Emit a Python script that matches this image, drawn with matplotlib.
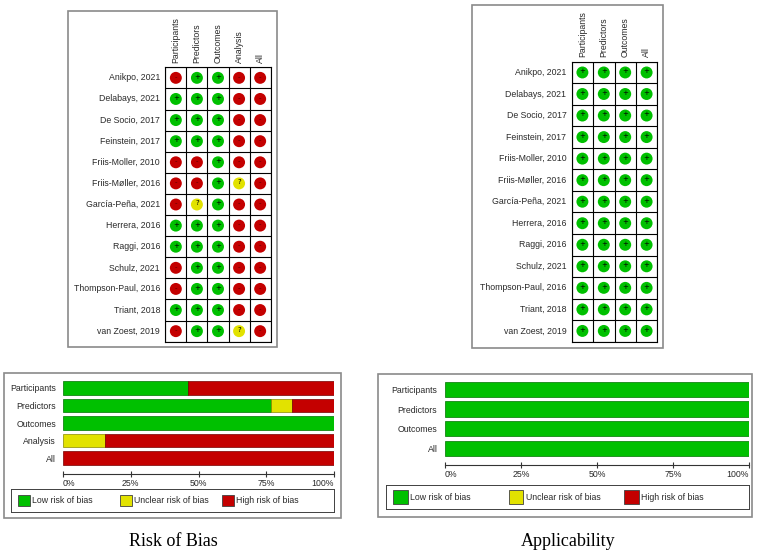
import matplotlib
matplotlib.use("Agg")
import matplotlib.pyplot as plt
from matplotlib.patches import Rectangle
import matplotlib.colors as mcolors
import numpy as np

# ---------------- data ----------------
studies = ["Anikpo, 2021", "Delabays, 2021", "De Socio, 2017", "Feinstein, 2017",
           "Friis-Moller, 2010", "Friis-Møller, 2016", "García-Peña, 2021",
           "Herrera, 2016", "Raggi, 2016", "Schulz, 2021", "Thompson-Paul, 2016",
           "Triant, 2018", "van Zoest, 2019"]

rob_domains = ["Participants", "Predictors", "Outcomes", "Analysis", "All"]
app_domains = ["Participants", "Predictors", "Outcomes", "All"]

# L = low, U = unclear, H = high (one entry per study, in order above)
rob_participants = ["H", "L", "L", "L", "H", "H", "H", "L", "L", "H", "H", "L", "H"]
rob_predictors   = ["L", "L", "L", "L", "H", "H", "U", "L", "L", "L", "L", "L", "L"]
rob_outcomes     = ["L", "L", "L", "L", "L", "L", "L", "L", "L", "L", "L", "L", "L"]
rob_analysis     = ["H", "H", "H", "H", "H", "U", "H", "H", "H", "H", "H", "H", "U"]
rob_all          = ["H", "H", "H", "H", "H", "H", "H", "H", "H", "H", "H", "H", "H"]

app_participants = ["L", "L", "L", "L", "L", "L", "L", "L", "L", "L", "L", "L", "L"]
app_predictors   = ["L", "L", "L", "L", "L", "L", "L", "L", "L", "L", "L", "L", "L"]
app_outcomes     = ["L", "L", "L", "L", "L", "L", "L", "L", "L", "L", "L", "L", "L"]
app_all          = ["L", "L", "L", "L", "L", "L", "L", "L", "L", "L", "L", "L", "L"]

levels = ["L", "U", "H"]
legend_labels = ["Low risk of bias", "Unclear risk of bias", "High risk of bias"]
tick_values = [0, 25, 50, 75, 100]
tick_labels = ["0%", "25%", "50%", "75%", "100%"]
titles = ["Risk of Bias", "Applicability"]

# ---------------- style ----------------
COL = {"L": "#00C000", "U": "#E2E200", "H": "#C40000"}
SIGN = {"L": "+", "U": "?", "H": "-"}
SIGN_COL = {"L": "black", "U": "black", "H": "#5a0000"}
FONT = "Liberation Sans"
FS = 6.3
TXT = "#2a2a2a"
FRAME = "#8a8a8a"

W, H = 760, 555
fig = plt.figure(figsize=(W / 100, H / 100), dpi=100)
fig.patch.set_facecolor("white")


def darker(c, f=0.7):
    r, g, b = mcolors.to_rgb(c)
    return (r * f, g * f, b * f)


def px_axes(l, t, r, b):
    return fig.add_axes([l / W, 1 - b / H, (r - l) / W, (b - t) / H])


def frame(l, t, r, b, color=FRAME, lw=1.2):
    fig.patches.append(Rectangle((l / W, 1 - b / H), (r - l) / W, (b - t) / H,
                                 transform=fig.transFigure, fill=False,
                                 edgecolor=color, linewidth=lw, zorder=0))


def traffic(ax, columns, domains, lab_gap=3.0):
    n_rows = len(studies)
    n_cols = len(domains)
    ax.set_xlim(0, n_cols)
    ax.set_ylim(n_rows, 0)
    ys = np.arange(n_rows) + 0.5
    for j, col in enumerate(columns):
        ax.scatter(np.full(n_rows, j + 0.5), ys, s=74,
                   c=[COL[v] for v in col], linewidths=0, zorder=3)
        for i, v in enumerate(col):
            ax.text(j + 0.5, i + 0.45, SIGN[v], ha="center", va="center",
                    fontsize=5.0, color=SIGN_COL[v], zorder=4, family="DejaVu Sans")
    ax.set_xticks(np.arange(n_cols + 1))
    ax.set_yticks(np.arange(n_rows + 1))
    ax.grid(True, color="black", linewidth=0.8)
    ax.set_axisbelow(True)
    ax.tick_params(length=0, labelbottom=False, labelleft=False)
    for s in ax.spines.values():
        s.set_linewidth(0.8)
    for j, d in enumerate(domains):
        ax.annotate(d, xy=(j + 0.5, 0), xytext=(0, lab_gap), textcoords="offset points",
                    rotation=90, ha="center", va="bottom", fontsize=FS,
                    family=FONT, color=TXT, annotation_clip=False)
    for i, s in enumerate(studies):
        ax.annotate(s, xy=(0, i + 0.5), xytext=(-3.8, 0), textcoords="offset points",
                    ha="right", va="center", fontsize=FS, family=FONT, color=TXT,
                    annotation_clip=False)


def stacked(ax, columns, domains, bottom_pad, ypad):
    n = len(domains)
    y = np.arange(n)
    left = np.zeros(n)
    for lvl in levels:
        pct = np.array([sum(v == lvl for v in col) / len(col) * 100 for col in columns])
        m = pct > 0
        ax.barh(y[m], pct[m], left=left[m], height=0.78, color=COL[lvl],
                edgecolor=darker(COL[lvl], 0.6), linewidth=0.5)
        left += pct
    ax.set_xlim(0, 100)
    ax.set_ylim(n - 1 + 0.39 + bottom_pad, -0.39)
    ax.set_yticks(y)
    ax.set_yticklabels(domains, fontsize=FS, family=FONT, color=TXT)
    ax.set_xticks(tick_values)
    ax.set_xticklabels(tick_labels, fontsize=FS, family=FONT, color=TXT)
    xl = ax.get_xticklabels()
    xl[0].set_ha("left")
    xl[-1].set_ha("right")
    ax.tick_params(axis="y", length=0, pad=ypad)
    ax.tick_params(axis="x", direction="inout", length=4, width=0.8, color="#333333", pad=1.5)
    for k in ["top", "left", "right"]:
        ax.spines[k].set_visible(False)
    ax.spines["bottom"].set_color("#333333")
    ax.spines["bottom"].set_linewidth(0.8)
    ax.patch.set_alpha(0)


def legend_box(l, t, r, b, first, slot, sq_w, sq_h, text_off):
    ax = px_axes(l, t, r, b)
    w, h = r - l, b - t
    ax.set_xlim(0, w)
    ax.set_ylim(h, 0)
    ax.set_xticks([])
    ax.set_yticks([])
    for s in ax.spines.values():
        s.set_color("#404040")
        s.set_linewidth(0.7)
    for k, (lvl, lab) in enumerate(zip(levels, legend_labels)):
        x0 = first + k * slot
        ax.add_patch(Rectangle((x0, (h - sq_h) / 2), sq_w, sq_h, facecolor=COL[lvl],
                               edgecolor="#404040", linewidth=0.6))
        ax.text(x0 + text_off, h / 2, lab, ha="left", va="center", fontsize=FS,
                family=FONT, color=TXT)


# ---------------- Risk of bias ----------------
frame(68, 11, 277, 347)
ax1 = px_axes(165.3, 67.3, 270.7, 341.7)
traffic(ax1, [rob_participants, rob_predictors, rob_outcomes, rob_analysis, rob_all],
        rob_domains, lab_gap=3.0)

frame(4, 373, 341, 518)
ax2 = px_axes(63, 381, 334, 474)
stacked(ax2, [rob_participants, rob_predictors, rob_outcomes, rob_analysis, rob_all],
        rob_domains, bottom_pad=0.51, ypad=5)
legend_box(11, 489, 334, 512, first=7.3, slot=102, sq_w=11.7, sq_h=11.7, text_off=14)

fig.text(173 / W, 1 - 541.5 / H, titles[0], ha="center", va="center",
         fontsize=13, family="Liberation Serif", color="black")

# ---------------- Applicability ----------------
frame(472, 5, 663, 348)
ax3 = px_axes(571.7, 61.7, 657.3, 341.7)
traffic(ax3, [app_participants, app_predictors, app_outcomes, app_all],
        app_domains, lab_gap=3.6)

frame(378, 374, 752, 517)
ax4 = px_axes(445, 381.7, 749, 465)
stacked(ax4, [app_participants, app_predictors, app_outcomes, app_all],
        app_domains, bottom_pad=0.46, ypad=5.5)
legend_box(386, 485, 749, 509, first=7.3, slot=115.5, sq_w=14.4, sq_h=13.3, text_off=16.7)

fig.text(568.3 / W, 1 - 542 / H, titles[1], ha="center", va="center",
         fontsize=13, family="Liberation Serif", color="black")

fig.savefig("out.png", dpi=100, facecolor="white")
